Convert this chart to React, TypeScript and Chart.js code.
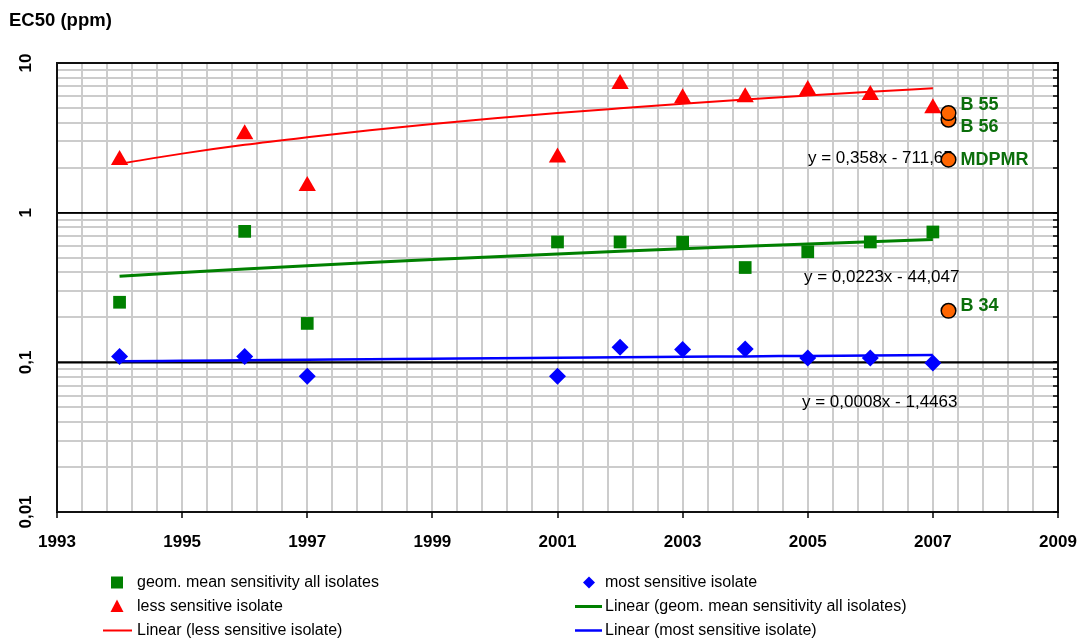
import React, { useEffect, useRef } from 'react';
import { Chart, registerables } from 'chart.js';

Chart.register(...registerables);

// ---------- data ----------
const YEARS = [1994, 1996, 1997, 2001, 2002, 2003, 2004, 2005, 2006, 2007];
const GEOM_MEAN = [0.252, 0.75, 0.182, 0.637, 0.637, 0.635, 0.43, 0.548, 0.637, 0.743];
const MOST_SENSITIVE = [0.1096, 0.1096, 0.0806, 0.0806, 0.126, 0.1216, 0.1228, 0.107, 0.107, 0.099];
const LESS_SENSITIVE = [2.25, 3.34, 1.51, 2.34, 7.25, 5.82, 5.9, 6.61, 6.12, 4.99];

const TREND_YEARS = [1994, 1995, 1996, 1997, 1998, 1999, 2000, 2001, 2002, 2003, 2004, 2005, 2006, 2007];
const LESS_TREND = [2.12, 2.48, 2.84, 3.19, 3.55, 3.91, 4.27, 4.63, 4.98, 5.34, 5.7, 6.06, 6.42, 6.77];
const GEOM_TREND = [0.376, 0.398, 0.42, 0.442, 0.464, 0.486, 0.508, 0.53, 0.552, 0.574, 0.596, 0.618, 0.64, 0.662];
const MOST_TREND = [0.1016, 0.1024, 0.1032, 0.104, 0.1048, 0.1056, 0.1064, 0.1072, 0.108, 0.1088, 0.1096, 0.1104, 0.1112, 0.112];

const ISOLATE_NAMES = ['B 55', 'B 56', 'MDPMR', 'B 34'];
const ISOLATE_YEAR = [2007.25, 2007.25, 2007.25, 2007.25];
const ISOLATE_VALUES = [4.63, 4.18, 2.26, 0.221];

const EQUATIONS = ['y = 0,358x - 711,65', 'y = 0,0223x - 44,047', 'y = 0,0008x - 1,4463'];

const X_LABELS = ['1993', '1995', '1997', '1999', '2001', '2003', '2005', '2007', '2009'];
const Y_LABEL_VALUES = [10, 1, 0.1, 0.01];
const Y_LABELS = ['10', '1', '0,1', '0,01'];

const SERIES_LABELS = [
  'geom. mean sensitivity all isolates',
  'most sensitive isolate',
  'less sensitive isolate',
  'Linear (geom. mean sensitivity all isolates)',
  'Linear (less sensitive isolate)',
  'Linear (most sensitive isolate)',
];

// ---------- styles ----------
const GREEN = '#008000';
const RED = '#FF0000';
const BLUE = '#0000FF';
const ORANGE = '#FF6600';
const LABEL_GREEN = '#0b6e0b';
const FONT = '"Liberation Sans", Arial, Helvetica, sans-serif';

const X_MIN = 1993;
const X_MAX = 2009;

function xGridValues(): number[] {
  const out: number[] = [];
  for (let k = 0; k <= 40; k++) out.push(Number((X_MIN + k * 0.4).toFixed(4)));
  return out;
}
function yGridValues(): number[] {
  const out: number[] = [];
  for (let e = -2; e <= 0; e++) {
    for (let m = 1; m <= 9; m++) out.push(Number((m * Math.pow(10, e)).toPrecision(6)));
  }
  out.push(10);
  return out;
}
const isDecade = (v: number) => Math.abs(Math.log10(v) - Math.round(Math.log10(v))) < 1e-6;

function pts(xs: number[], ys: number[]) {
  return xs.map((x, i) => ({ x, y: ys[i] }));
}

function drawMarker(ctx: CanvasRenderingContext2D, style: string, x: number, y: number, color: string) {
  ctx.fillStyle = color;
  ctx.beginPath();
  if (style === 'rect') {
    ctx.rect(x - 6, y - 6, 12, 12);
  } else if (style === 'triangle') {
    ctx.moveTo(x, y - 7);
    ctx.lineTo(x + 6.5, y + 5.5);
    ctx.lineTo(x - 6.5, y + 5.5);
    ctx.closePath();
  } else if (style === 'rectRot') {
    ctx.moveTo(x, y - 6);
    ctx.lineTo(x + 6, y);
    ctx.lineTo(x, y + 6);
    ctx.lineTo(x - 6, y);
    ctx.closePath();
  }
  ctx.fill();
}

const LEGEND_COL_MARKER = [117, 589];
const LEGEND_COL_LINE = [[103, 132], [575, 602]];
const LEGEND_COL_TEXT = [137, 605];
const LEGEND_ROW_Y = [582.5, 606.5, 630.5];
const LEGEND_ITEMS = [
  { ds: 0, col: 0, row: 0 },
  { ds: 1, col: 1, row: 0 },
  { ds: 2, col: 0, row: 1 },
  { ds: 3, col: 1, row: 1 },
  { ds: 4, col: 0, row: 2 },
  { ds: 5, col: 1, row: 2 },
];

const ISOLATE_LABEL_DY = [-8, 7, 0, -5];

const decorPlugin = {
  id: 'decor',
  beforeDatasetsDraw(chart: any) {
    const { ctx, chartArea: a, scales } = chart;
    const x = scales.x;
    const y = scales.y;
    ctx.save();
    // decade lines
    ctx.strokeStyle = '#000';
    ctx.lineWidth = 1.5;
    for (const v of Y_LABEL_VALUES) {
      const py = Math.round(y.getPixelForValue(v));
      ctx.beginPath();
      ctx.moveTo(a.left, py);
      ctx.lineTo(a.right, py);
      ctx.stroke();
    }
    // frame
    ctx.lineWidth = 2;
    ctx.strokeStyle = '#111';
    ctx.strokeRect(a.left, a.top, a.right - a.left, a.bottom - a.top);
    // inward tick marks on right side
    ctx.lineWidth = 1.5;
    ctx.strokeStyle = '#000';
    for (const v of yGridValues()) {
      const py = Math.round(y.getPixelForValue(v));
      ctx.beginPath();
      ctx.moveTo(a.right - 5, py);
      ctx.lineTo(a.right, py);
      ctx.stroke();
    }
    // bottom major tick marks
    for (const lab of X_LABELS) {
      const px = Math.round(x.getPixelForValue(Number(lab)));
      ctx.beginPath();
      ctx.moveTo(px, a.bottom);
      ctx.lineTo(px, a.bottom + 6);
      ctx.stroke();
    }
    // x labels
    ctx.fillStyle = '#000';
    ctx.font = `bold 17px ${FONT}`;
    ctx.textAlign = 'center';
    ctx.textBaseline = 'middle';
    for (const lab of X_LABELS) {
      ctx.fillText(lab, x.getPixelForValue(Number(lab)), a.bottom + 30);
    }
    // y labels (rotated)
    Y_LABEL_VALUES.forEach((v, i) => {
      const py = y.getPixelForValue(v);
      ctx.save();
      ctx.translate(a.left - 31, py);
      ctx.rotate(-Math.PI / 2);
      ctx.fillText(Y_LABELS[i], 0, 0);
      ctx.restore();
    });
    // axis title
    ctx.textAlign = 'left';
    ctx.textBaseline = 'alphabetic';
    ctx.font = `bold 18.5px ${FONT}`;
    ctx.fillText('EC50 (ppm)', 9, 26);
    // trendline equations
    ctx.font = `17px ${FONT}`;
    ctx.textBaseline = 'middle';
    ctx.fillText(EQUATIONS[0], 808, 158);
    ctx.fillText(EQUATIONS[1], 804, 277);
    ctx.fillText(EQUATIONS[2], 802, 402);
    ctx.restore();
  },
  afterDatasetsDraw(chart: any) {
    const { ctx, scales } = chart;
    ctx.save();
    ctx.fillStyle = LABEL_GREEN;
    ctx.font = `bold 18px ${FONT}`;
    ctx.textAlign = 'left';
    ctx.textBaseline = 'middle';
    ISOLATE_NAMES.forEach((name, i) => {
      const px = scales.x.getPixelForValue(ISOLATE_YEAR[i]);
      const py = scales.y.getPixelForValue(ISOLATE_VALUES[i]);
      ctx.fillText(name, px + 12, py + ISOLATE_LABEL_DY[i]);
    });
    ctx.restore();
  },
  afterDraw(chart: any) {
    const { ctx } = chart;
    const dsets = chart.data.datasets;
    ctx.save();
    ctx.font = `16px ${FONT}`;
    ctx.textAlign = 'left';
    ctx.textBaseline = 'middle';
    for (const it of LEGEND_ITEMS) {
      const ds = dsets[it.ds];
      const yy = LEGEND_ROW_Y[it.row];
      if (ds.showLine) {
        ctx.strokeStyle = ds.borderColor;
        ctx.lineWidth = ds.borderWidth;
        ctx.beginPath();
        ctx.moveTo(LEGEND_COL_LINE[it.col][0], yy);
        ctx.lineTo(LEGEND_COL_LINE[it.col][1], yy);
        ctx.stroke();
      } else {
        drawMarker(ctx, ds.pointStyle, LEGEND_COL_MARKER[it.col], yy, ds.backgroundColor);
      }
      ctx.fillStyle = '#000';
      ctx.fillText(ds.label, LEGEND_COL_TEXT[it.col], yy);
    }
    ctx.restore();
  },
};

export default function App() {
  const ref = useRef<HTMLCanvasElement>(null);
  useEffect(() => {
    const canvas = ref.current;
    if (!canvas) return;
    const chart = new Chart(canvas, {
      type: 'scatter',
      data: {
        datasets: [
          {
            label: SERIES_LABELS[0],
            data: pts(YEARS, GEOM_MEAN),
            pointStyle: 'rect',
            pointRadius: 9,
            backgroundColor: GREEN,
            borderColor: GREEN,
            borderWidth: 0,
            showLine: false,
            order: 1,
          },
          {
            label: SERIES_LABELS[1],
            data: pts(YEARS, MOST_SENSITIVE),
            pointStyle: 'rectRot',
            pointRadius: 8.5,
            backgroundColor: BLUE,
            borderColor: BLUE,
            borderWidth: 0,
            showLine: false,
            order: 1,
          },
          {
            label: SERIES_LABELS[2],
            data: pts(YEARS, LESS_SENSITIVE),
            pointStyle: 'triangle',
            pointRadius: 10,
            backgroundColor: RED,
            borderColor: RED,
            borderWidth: 0,
            showLine: false,
            order: 1,
          },
          {
            label: SERIES_LABELS[3],
            data: pts(TREND_YEARS, GEOM_TREND),
            showLine: true,
            pointRadius: 0,
            borderColor: GREEN,
            backgroundColor: GREEN,
            borderWidth: 3,
            cubicInterpolationMode: 'monotone',
            order: 2,
          },
          {
            label: SERIES_LABELS[4],
            data: pts(TREND_YEARS, LESS_TREND),
            showLine: true,
            pointRadius: 0,
            borderColor: RED,
            backgroundColor: RED,
            borderWidth: 2,
            cubicInterpolationMode: 'monotone',
            order: 2,
          },
          {
            label: SERIES_LABELS[5],
            data: pts(TREND_YEARS, MOST_TREND),
            showLine: true,
            pointRadius: 0,
            borderColor: BLUE,
            backgroundColor: BLUE,
            borderWidth: 2.5,
            cubicInterpolationMode: 'monotone',
            order: 2,
          },
          {
            label: 'isolates',
            data: pts(ISOLATE_YEAR, ISOLATE_VALUES).reverse(),
            pointStyle: 'circle',
            pointRadius: 7.3,
            backgroundColor: ORANGE,
            borderColor: '#000',
            borderWidth: 1.5,
            showLine: false,
            order: 0,
          },
        ] as any,
      },
      options: {
        animation: false,
        responsive: true,
        maintainAspectRatio: false,
        layout: { padding: { left: 57, right: 21, top: 63, bottom: 128 } },
        plugins: {
          legend: { display: false },
          tooltip: { enabled: false },
          title: { display: false },
        },
        scales: {
          x: {
            type: 'linear',
            min: X_MIN,
            max: X_MAX,
            afterBuildTicks: (s: any) => {
              s.ticks = xGridValues().map((value) => ({ value }));
            },
            afterFit: (s: any) => {
              s.height = 0;
            },
            ticks: { display: false },
            grid: { color: '#cccccc', lineWidth: 2, drawTicks: false },
            border: { display: false },
          },
          y: {
            type: 'logarithmic',
            min: 0.01,
            max: 10,
            afterBuildTicks: (s: any) => {
              s.ticks = yGridValues().map((value) => ({ value }));
            },
            afterFit: (s: any) => {
              s.width = 0;
            },
            ticks: { display: false },
            grid: {
              color: (c: any) => (c.tick && isDecade(c.tick.value) ? '#000000' : '#cccccc'),
              lineWidth: (c: any) => (c.tick && isDecade(c.tick.value) ? 1.5 : 2),
              drawTicks: false,
            },
            border: { display: false },
          },
        },
      } as any,
      plugins: [decorPlugin],
    });
    return () => chart.destroy();
  }, []);

  return (
    <div style={{ position: 'fixed', left: 0, top: 0, width: 1079, height: 640, background: '#fff' }}>
      <canvas ref={ref} />
    </div>
  );
}
